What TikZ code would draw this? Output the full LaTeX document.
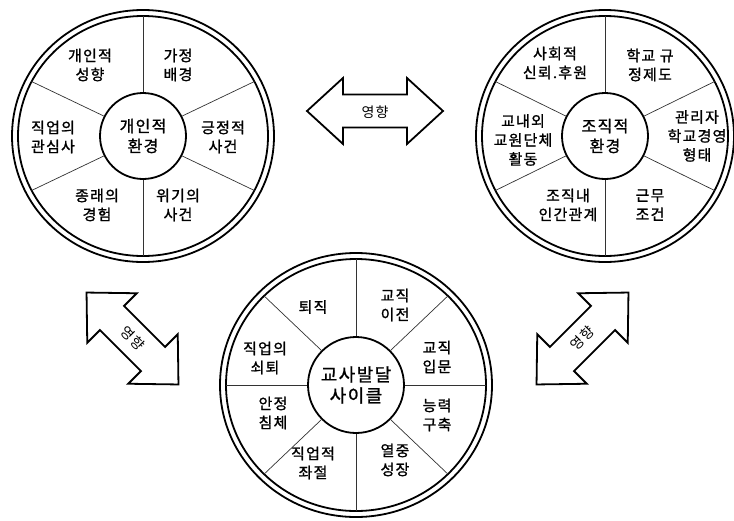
\documentclass[tikz,border=0pt]{standalone}
\usepackage{fontspec}
\usetikzlibrary{calc}
\newfontfamily\kr[LetterSpace=8]{Noto Sans CJK KR}
\newfontfamily\krb[LetterSpace=8,FakeBold=1.2]{Noto Sans CJK KR}
\begin{document}
\begin{tikzpicture}[x=1pt,y=-1pt,
  ring/.style={line width=1.8pt},
  spoke/.style={line width=0.7pt, draw=black!80},
  lbl/.style={align=center, font=\krb\fontsize{15}{19}\selectfont, inner sep=0pt},
  hub/.style={draw, circle, line width=1.8pt, align=center, inner sep=0pt, font=\krb\fontsize{16}{20}\selectfont},
  arr/.style={line width=1.8pt, fill=white, line join=miter},
  arrlbl/.style={font=\kr\fontsize{14}{16}\selectfont, inner sep=0pt}]
\useasboundingbox (0,0) rectangle (734,520);

% ---------- circle 1 : personal environment ----------
\coordinate (c1) at (143,136);
\draw[ring] (c1) ellipse [x radius=131pt, y radius=126pt];
\draw[ring] (c1) ellipse [x radius=125pt, y radius=120pt];
\node[hub, minimum size=86pt] (h1) at (c1) {개인적\\환경};
\foreach \a in {27,90,153,207,270,333}
  \draw[spoke] (h1.\a) -- ($(c1)+(\a:125pt and 120pt)$);
\node[lbl] (a1) at (90,65) {개인적\\성향};
\node[lbl] (a2) at (178,65) {가정\\배경};
\node[lbl] (a3) at (53,137) {직업의\\관심사};
\node[lbl] (a4) at (223,137) {긍정적\\사건};
\node[lbl] (a5) at (97,205) {종래의\\경험};
\node[lbl] (a6) at (178,205) {위기의\\사건};

% ---------- circle 2 : organisational environment ----------
\coordinate (c2) at (605,136);
\draw[ring] (c2) ellipse [x radius=129pt, y radius=126pt];
\draw[ring] (c2) ellipse [x radius=123pt, y radius=120pt];
\node[hub, minimum size=86pt] (h2) at (c2) {조직적\\환경};
\foreach \a in {27,90,153,207,270,333}
  \draw[spoke] (h2.\a) -- ($(c2)+(\a:123pt and 120pt)$);
\node[lbl] (b1) at (555,63) {사회적\\신뢰.후원};
\node[lbl] (b2) at (650,65) {학교 규\\정제도};
\node[lbl] (b3) at (523,140) {교내외\\교원단체\\활동};
\node[lbl] (b4) at (697,136) {관리자\\학교경영\\형태};
\node[lbl] (b5) at (568,205) {조직내\\인간관계};
\node[lbl] (b6) at (650,205) {근무\\조건};

% ---------- circle 3 : teacher development cycle ----------
\coordinate (c3) at (356,385);
\draw[ring] (c3) ellipse [x radius=136pt, y radius=132pt];
\draw[ring] (c3) ellipse [x radius=130pt, y radius=126pt];
\node[hub, minimum size=96pt, font=\krb\fontsize{18}{21}\selectfont] (h3) at (c3) {교사발달\\사이클};
\foreach \a in {0,45,...,315}
  \draw[spoke] (h3.\a) -- ($(c3)+(\a:130pt and 126pt)$);
\node[lbl] (d1) at (313,307) {퇴직};
\node[lbl] (d2) at (395,305) {교직\\이전};
\node[lbl] (d3) at (265,358) {직업의\\쇠퇴};
\node[lbl] (d4) at (437,357) {교직\\입문};
\node[lbl] (d5) at (273,413) {안정\\침체};
\node[lbl] (d6) at (437,415) {능력\\구축};
\node[lbl] (d7) at (313,463) {직업적\\좌절};
\node[lbl] (d8) at (395,460) {열중\\성장};

% ---------- double arrows ----------
\begin{scope}[shift={(375,111)}]
  \draw[arr] (-68,0) -- (-32,-33) -- (-32,-16.5) -- (32,-16.5) -- (32,-33) -- (68,0)
     -- (32,33) -- (32,16.5) -- (-32,16.5) -- (-32,33) -- cycle;
\end{scope}
\node[arrlbl] (t1) at (375,112) {영향};

\begin{scope}[shift={(132.5,338.5)}, rotate=-45]
  \draw[arr] (-65,0) -- (-29,-35) -- (-29,-17) -- (29,-17) -- (29,-35) -- (65,0)
     -- (29,35) -- (29,17) -- (-29,17) -- (-29,35) -- cycle;
\end{scope}
\node[arrlbl, rotate=-45] (t2) at (132.5,338.5) {영향};

\begin{scope}[shift={(582.5,338.5)}, rotate=45]
  \draw[arr] (-65,0) -- (-29,-35) -- (-29,-17) -- (29,-17) -- (29,-35) -- (65,0)
     -- (29,35) -- (29,17) -- (-29,17) -- (-29,35) -- cycle;
\end{scope}
\node[arrlbl, rotate=45] (t3) at (582.5,338.5) {영향};
\end{tikzpicture}
\end{document}
